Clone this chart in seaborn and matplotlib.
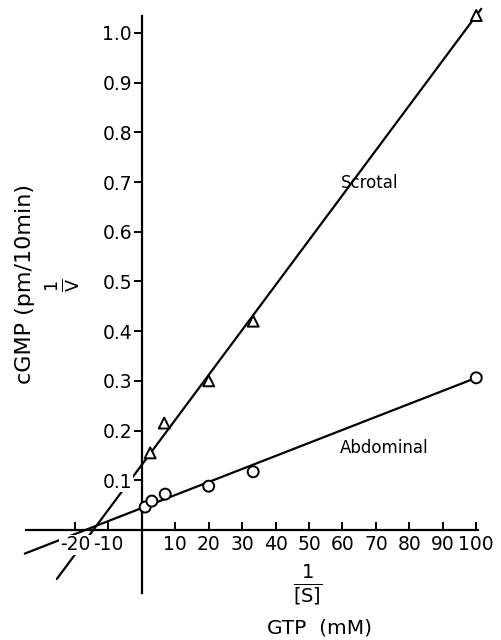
import numpy as np
import pandas as pd
import matplotlib
matplotlib.use("Agg")
import matplotlib.pyplot as plt
import seaborn as sns

# Lineweaver-Burk data (1/[S] in 1/mM, 1/V)
inv_s_scrotal = [2.5, 6.7, 20, 33.3, 100]
inv_v_scrotal = [0.155, 0.215, 0.30, 0.42, 1.035]
inv_s_abdominal = [1.0, 3.0, 7.0, 20, 33.3, 100]
inv_v_abdominal = [0.046, 0.058, 0.072, 0.088, 0.117, 0.306]

# drawn regression lines: 1/V intercept and slope
fit_intercept = {"Scrotal": 0.131, "Abdominal": 0.044}
fit_slope = {"Scrotal": 0.00904, "Abdominal": 0.00262}
line_start = {"Scrotal": -25.4, "Abdominal": -35.0}

x_ticks = [-20, -10, 10, 20, 30, 40, 50, 60, 70, 80, 90, 100]
y_ticks = [0.1, 0.2, 0.3, 0.4, 0.5, 0.6, 0.7, 0.8, 0.9, 1.0]

df = pd.concat([
    pd.DataFrame({"inv_s": inv_s_scrotal, "inv_v": inv_v_scrotal, "tissue": "Scrotal"}),
    pd.DataFrame({"inv_s": inv_s_abdominal, "inv_v": inv_v_abdominal, "tissue": "Abdominal"}),
])

sns.set_style("ticks")
plt.rcParams["font.family"] = ["DejaVu Sans"]
plt.rcParams["text.color"] = "black"
plt.rcParams["xtick.color"] = "black"
plt.rcParams["ytick.color"] = "black"

fig = plt.figure(figsize=(5.02, 6.4), dpi=100)
ax = fig.add_axes([0.052, 0.0734, 0.900, 0.9016])
ax.set_axisbelow(False)

for tissue in ["Scrotal", "Abdominal"]:
    xs = np.array([line_start[tissue], 101.5])
    ax.plot(xs, fit_intercept[tissue] + fit_slope[tissue] * xs,
            color="black", lw=1.6, zorder=2, clip_on=False)

sns.scatterplot(data=df, x="inv_s", y="inv_v", style="tissue",
                markers={"Scrotal": "^", "Abdominal": "o"},
                s=62, facecolor="white", edgecolor="black", linewidth=1.4,
                legend=False, zorder=3, clip_on=False, ax=ax)

ax.set_xlim(-34.6, 100.5)
ax.set_ylim(-0.127, 1.034)

for side in ["top", "right"]:
    ax.spines[side].set_visible(False)
for side in ["left", "bottom"]:
    ax.spines[side].set_position(("data", 0))
    ax.spines[side].set_linewidth(1.6)
    ax.spines[side].set_color("black")

ax.set_xticks(x_ticks)
ax.set_xticklabels([str(t) for t in x_ticks])
ax.set_yticks(y_ticks)
ax.set_yticklabels([f"{t:.1f}" for t in y_ticks])
ax.tick_params(axis="x", direction="in", length=6, width=1.4, pad=4, labelsize=13.5)
ax.tick_params(axis="y", direction="out", length=6, width=1.4, pad=1, labelsize=13.5)
for lbl in ax.get_xticklabels() + ax.get_yticklabels():
    lbl.set_bbox(dict(facecolor="white", edgecolor="none", pad=0.5))

ax.set_xlabel("")
ax.set_ylabel("")

ax.text(68, 0.698, "Scrotal", fontsize=12, ha="center", va="center")
ax.text(72.5, 0.165, "Abdominal", fontsize=12, ha="center", va="center")
ax.text(49.5, -0.11, r"$\frac{\mathsf{1}}{\mathsf{[S]}}$", fontsize=20,
        ha="center", va="center", clip_on=False)

fig.text(0.637, 0.019, "GTP  (mM)", fontsize=14.5, ha="center", va="center")
fig.text(0.05, 0.557, "cGMP (pm/10min)", fontsize=16, rotation=90,
         ha="center", va="center")
fig.text(0.125, 0.555, r"$\frac{\mathsf{1}}{\mathsf{V}}$", fontsize=18, rotation=90,
         ha="center", va="center")

fig.savefig("out.png", dpi=100)
